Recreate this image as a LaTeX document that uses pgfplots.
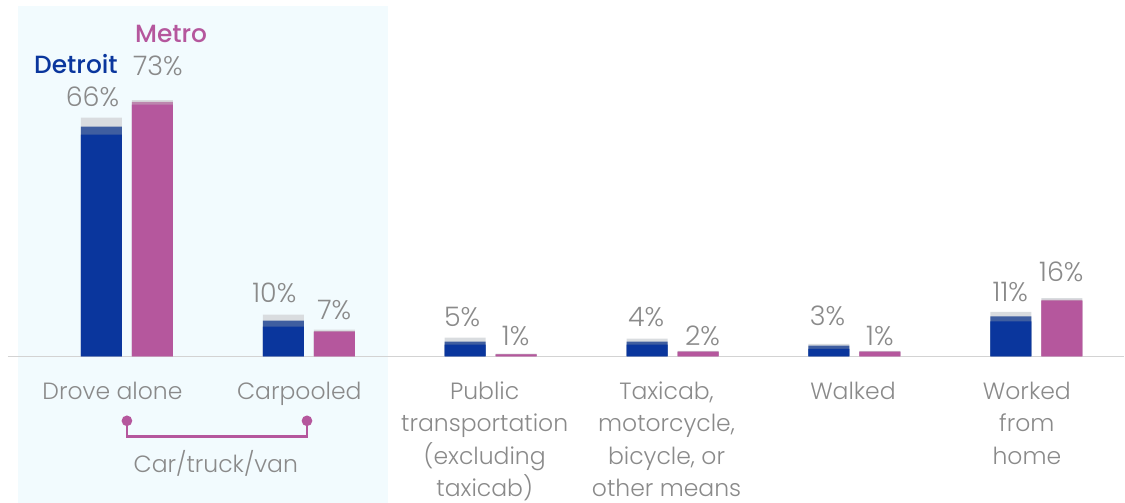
\documentclass[border=0pt]{standalone}
\usepackage{pgfplots}
\pgfplotsset{compat=1.18}
\usepackage{fontspec}
\IfFontExistsTF{Poppins Light}{\setmainfont{Poppins Light}}{\setmainfont{Poppins}}
\IfFontExistsTF{Poppins Medium}{\newfontfamily\headfont{Poppins Medium}}{\newfontfamily\headfont{Poppins}[UprightFont=* Bold]}

\definecolor{detblue}{HTML}{0A369D}
\definecolor{detmid}{HTML}{3F5EA0}
\definecolor{lgrey}{HTML}{D9DCDF}
\definecolor{metpink}{HTML}{B5579D}
\definecolor{metlight}{HTML}{BC86AE}
\definecolor{bgcyan}{HTML}{F2FBFE}
\definecolor{txtgray}{HTML}{8A8A8A}
\definecolor{basegray}{HTML}{D3D3D3}

\begin{document}
\begin{tikzpicture}[
  lab/.style={anchor=base, inner sep=0pt, text=txtgray, font=\fontsize{27}{30}\selectfont},
  cat/.style={anchor=base, inner sep=0pt, align=center, text=txtgray, font=\fontsize{23.6}{32.5}\selectfont},
]
\begin{axis}[
  scale only axis,
  width=1125bp, height=503bp,
  xmin=-0.6978, xmax=5.4835,
  ymin=-42.04, ymax=102.5,
  axis lines=none,
  clip=false,
]
\path (rel axis cs:0,0) rectangle (rel axis cs:1,1);
% shaded car/truck/van panel
\fill[bgcyan] (axis cs:-0.599,-42.04) rectangle (axis cs:1.434,100.8);
% baseline
\draw[draw=basegray, line width=1.5bp] (axis cs:-0.654,0) -- (axis cs:5.4835,0);

% Detroit: grey top, mid-blue, dark blue (tops, %)
\addplot[ybar, bar width=41bp, bar shift=-25.5bp, fill=lgrey, draw=none]
  coordinates {(0,68.7) (1,12.0) (2,5.4) (3,5.1) (4,3.6) (5,12.8)};
\addplot[ybar, bar width=41bp, bar shift=-25.5bp, fill=detmid, draw=none]
  coordinates {(0,66.1) (1,10.3) (2,4.3) (3,4.3) (4,3.1) (5,11.5)};
\addplot[ybar, bar width=41bp, bar shift=-25.5bp, fill=detblue, draw=none]
  coordinates {(0,63.8) (1,8.6) (2,3.4) (3,3.4) (4,2.2) (5,10.1)};
% Metro
\addplot[ybar, bar width=41bp, bar shift=25.5bp, fill=lgrey, draw=none]
  coordinates {(0,73.7) (1,7.7) (2,0.8) (3,1.6) (4,1.6) (5,16.8)};
\addplot[ybar, bar width=41bp, bar shift=25.5bp, fill=metlight, draw=none]
  coordinates {(0,73.2) (1,7.3) (2,0.65) (3,1.45) (4,1.45) (5,16.3)};
\addplot[ybar, bar width=41bp, bar shift=25.5bp, fill=metpink, draw=none]
  coordinates {(0,72.4) (1,7.0) (2,0.5) (3,1.35) (4,1.3) (5,16.0)};

% bracket
\addplot[metpink, line width=2.5bp, mark=*, mark indices={1,4}, mark size=4bp,
  mark options={fill=metpink, draw=none}]
  coordinates {(0,-18.5) (0,-23.07) (0.99,-23.07) (0.99,-18.5)};

% value labels
\node[lab] at (axis cs:-0.1896,71.75) {66\%};
\node[lab] at (axis cs:0.1703,80.7) {73\%};
\node[lab] at (axis cs:0.8104,15.4) {10\%};
\node[lab] at (axis cs:1.1401,10.5) {7\%};
\node[lab] at (axis cs:1.8434,8.6) {5\%};
\node[lab] at (axis cs:2.1374,3.2) {1\%};
\node[lab] at (axis cs:2.8544,8.6) {4\%};
\node[lab] at (axis cs:3.1648,3.2) {2\%};
\node[lab] at (axis cs:3.8516,8.8) {3\%};
\node[lab] at (axis cs:4.1401,3.2) {1\%};
\node[lab] at (axis cs:4.8571,15.8) {11\%};
\node[lab] at (axis cs:5.1374,21.6) {16\%};

% series headers
\node[anchor=base east, inner sep=0pt, text=detblue, font=\headfont\fontsize{25}{28}\selectfont]
  at (axis cs:-0.0494,81.3) {Detroit};
\node[anchor=base west, inner sep=0pt, text=metpink, font=\headfont\fontsize{25}{28}\selectfont]
  at (axis cs:0.044,90.4) {Metro};

% category labels (anchored at the baseline of the last line)
\node[cat] at (axis cs:-0.0797,-12.24) {Drove alone};
\node[cat] at (axis cs:0.9478,-12.24) {Carpooled};
\node[cat] at (axis cs:1.967,-40.26) {Public\\transportation\\(excluding\\taxicab)};
\node[cat] at (axis cs:2.967,-40.26) {Taxicab,\\motorcycle,\\bicycle, or\\other means};
\node[cat] at (axis cs:3.992,-12.24) {Walked};
\node[cat] at (axis cs:4.948,-30.92) {Worked\\from\\home};
\node[cat] at (axis cs:0.489,-33.4) {Car/truck/van};
\end{axis}
\end{tikzpicture}
\end{document}
